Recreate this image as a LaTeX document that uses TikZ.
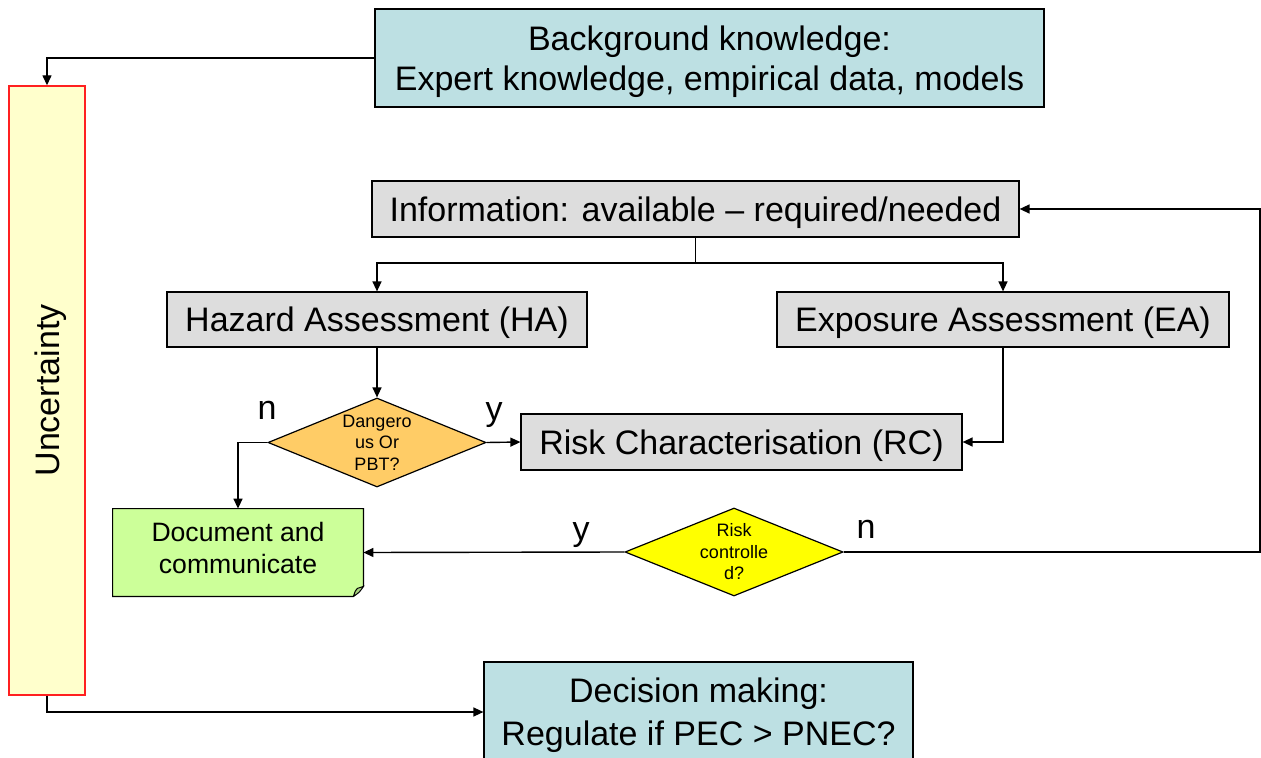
\documentclass[tikz,border=0pt]{standalone}
\usepackage{fontspec}
\setmainfont{Liberation Sans}
\usetikzlibrary{shapes.geometric,arrows.meta}
\definecolor{bluebox}{HTML}{BDE0E3}
\definecolor{graybox}{HTML}{DDDDDD}
\definecolor{orangedia}{HTML}{FFCC66}
\definecolor{yellowdia}{HTML}{FFFF00}
\definecolor{greenbox}{HTML}{CCFF99}
\definecolor{uncfill}{HTML}{FFFFCC}
\definecolor{uncline}{HTML}{FF2020}
\tikzset{
  bigtxt/.style={font=\fontsize{17}{20.5}\selectfont},
  boxbase/.style={draw=black, line width=0.6pt, inner sep=0pt, align=center, text depth=0pt, bigtxt},
  bluenode/.style={boxbase, fill=bluebox},
  graynode/.style={boxbase, fill=graybox},
  dia/.style={shape=diamond, draw=black, line width=0.6pt, inner sep=0pt},
  conn/.style={draw=black, line width=0.7pt, -{Triangle[length=5pt,width=4.5pt]}},
  plain/.style={draw=black, line width=0.7pt},
  yn/.style={bigtxt, inner sep=0pt}
}
\begin{document}
\begin{tikzpicture}[x=0.5pt,y=-0.5pt]
\useasboundingbox (0,0) rectangle (1261,758);

% boxes
\node[bluenode, minimum width=334.5pt, minimum height=49pt, font=\fontsize{17}{20}\selectfont] (bg) at (709.5,58) {Background knowledge:\\Expert knowledge, empirical data, models};
\node[draw=uncline, line width=0.7pt, fill=uncfill, minimum width=38pt, minimum height=304.5pt, inner sep=0pt] (unc) at (47,390.5) {};
\node[bigtxt, rotate=90, inner sep=0pt, text depth=0pt] (unctext) at (unc.center) {Uncertainty};
\node[graynode, minimum width=323.5pt, minimum height=28pt] (info) at (695.5,209) {Information: available -- required/needed};
\node[graynode, minimum width=210pt, minimum height=27.5pt] (ha) at (377,319.5) {Hazard Assessment (HA)};
\node[graynode, minimum width=226pt, minimum height=27.5pt] (ea) at (1003,319.5) {Exposure Assessment (EA)};
\node[graynode, minimum width=220.5pt, minimum height=28pt] (rc) at (741.5,442) {Risk Characterisation (RC)};

\node[dia, fill=orangedia, minimum width=109pt, minimum height=44.5pt] (d1) at (377,442.5) {};
\node[align=center, inner sep=0pt, font=\fontsize{9}{10.75}\selectfont] (d1text) at (d1.center) {Dangero\\us Or\\PBT?};
\node[dia, fill=yellowdia, minimum width=109pt, minimum height=44pt] (d2) at (734,552) {};
\node[align=center, inner sep=0pt, font=\fontsize{9}{10.75}\selectfont] (d2text) at (d2.center) {Risk\\controlle\\d?};

% document shape with folded corner
\node[minimum width=125pt, minimum height=43.5pt, inner sep=0pt] (doc) at (238,552.5) {};
\fill[greenbox] (doc.north west) -- (doc.north east) -- ([yshift=5pt]doc.south east) -- ([xshift=-5pt]doc.south east) -- (doc.south west) -- cycle;
\draw[line width=0.6pt] (doc.north west) -- (doc.north east) -- ([yshift=5pt]doc.south east) -- ([xshift=-5pt]doc.south east) -- (doc.south west) -- cycle;
\draw[line width=0.5pt, fill=greenbox!70!black!60!greenbox] ([xshift=-5pt]doc.south east) .. controls ([xshift=-4pt,yshift=3pt]doc.south east) .. ([xshift=-3pt,yshift=4pt]doc.south east) -- ([yshift=5pt]doc.south east) .. controls ([xshift=-2pt,yshift=2pt]doc.south east) .. ([xshift=-5pt]doc.south east);
\node[inner sep=0pt, align=center, font=\fontsize{13.3}{16}\selectfont] (doctext) at ([yshift=2.5pt]doc.center) {Document and\\communicate};

\node[bluenode, minimum width=214.5pt, minimum height=50pt, font=\fontsize{17}{21.5}\selectfont] (dec) at (698.5,712) {Decision making:\\Regulate if PEC > PNEC?};

% labels
\node[yn] (ln1) at (267,410) {n};
\node[yn] (ly1) at (494,415) {y};
\node[yn] (ly2) at (581,535) {y};
\node[yn] (ln2) at (866,529) {n};

% connectors
\draw[conn] (bg.west) -| (unc.north);
\coordinate (split) at (695.5,263);
\draw[plain] (info.south) -- (split);
\draw[conn] (split) -| (ha.north);
\draw[conn] (split) -| (ea.north);
\draw[conn] (ha.south) -- (d1.north);
\draw[conn] (d1.east) -- (rc.west);
\draw[conn] (ea.south) |- (rc.east);
\draw[conn] (d1.west) -| (doc.north);
\draw[conn] (d2.west) -- (doc.east);
\coordinate (rloop) at (1260,552);
\draw[conn] (d2.east) -- (rloop) |- (info.east);
\draw[conn] (unc.south) |- (dec.west);
\end{tikzpicture}
\end{document}
